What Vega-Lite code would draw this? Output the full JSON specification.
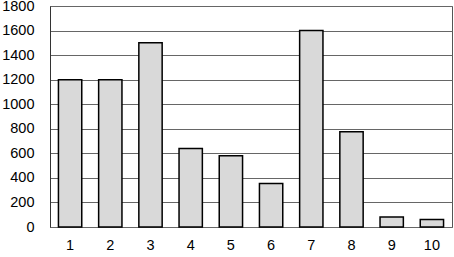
{
  "$schema": "https://vega.github.io/schema/vega-lite/v6.json",
  "width": 402,
  "height": 221,
  "autosize": {"type": "none"},
  "padding": {"left": 50, "top": 6, "right": 2, "bottom": 30},
  "background": "white",
  "config": {
    "view": {"stroke": "#555555", "strokeWidth": 1},
    "font": "Liberation Sans"
  },
  "data": {
    "values": [
      {"k": "1", "v": 1200},
      {"k": "2", "v": 1200},
      {"k": "3", "v": 1500},
      {"k": "4", "v": 640},
      {"k": "5", "v": 580},
      {"k": "6", "v": 355},
      {"k": "7", "v": 1600},
      {"k": "8", "v": 775},
      {"k": "9", "v": 82},
      {"k": "10", "v": 62}
    ]
  },
  "mark": {"type": "bar", "fill": "#d9d9d9", "stroke": "#000000", "strokeWidth": 1.5},
  "encoding": {
    "x": {
      "field": "k", "type": "ordinal", "sort": null,
      "scale": {"paddingInner": 0.42, "paddingOuter": 0.21},
      "axis": {"title": null, "labelAngle": 0, "ticks": false, "domain": false, "labelPadding": 11, "labelFontSize": 14.5, "labelColor": "#000000", "labelFont": "Liberation Sans"}
    },
    "y": {
      "field": "v", "type": "quantitative",
      "scale": {"domain": [0, 1800], "nice": false},
      "axis": {"title": null, "format": "d", "values": [0, 200, 400, 600, 800, 1000, 1200, 1400, 1600, 1800], "ticks": false, "domain": true, "domainColor": "#333333", "labelPadding": 16, "labelFontSize": 14.5, "labelColor": "#000000", "labelFont": "Liberation Sans", "gridColor": "#666666", "gridOpacity": 1, "gridWidth": 1}
    }
  }
}
